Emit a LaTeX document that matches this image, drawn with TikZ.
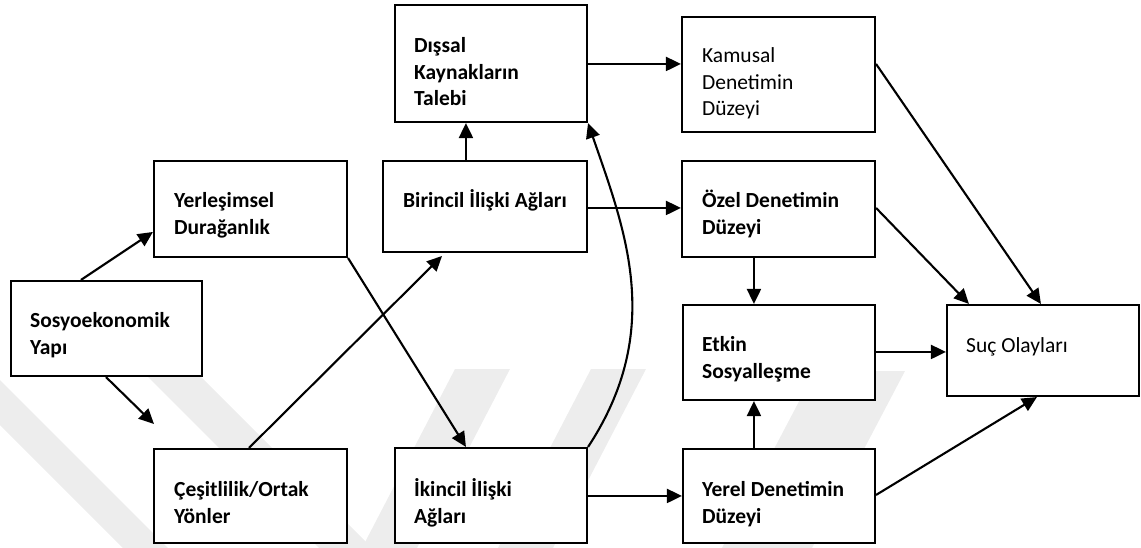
\documentclass[tikz,border=0pt]{standalone}
\usepackage{fontspec}
\setmainfont{Carlito}
\usetikzlibrary{arrows.meta,calc}
\begin{document}
\begin{tikzpicture}[x=1pt,y=-1pt,
  box/.style={draw, line width=2.1pt, fill=white, inner sep=0pt, rectangle},
  lbl/.style={anchor=base west, inner sep=0pt, align=left, font=\fontsize{21.5}{26.5}\selectfont\bfseries},
  lblr/.style={anchor=base west, inner sep=0pt, align=left, font=\fontsize{21.5}{26.5}\selectfont},
  arr/.style={line width=2.1pt, -{Triangle[length=15pt,width=14pt]}},
  wm/.style={fill=black!7, draw=none}]
\useasboundingbox (0,0) rectangle (1141,548);
% watermark
\fill[wm] (0,380) -- (0,425) -- (123,548) -- (168,548) -- cycle;
\fill[wm] (147,376) -- (200,376) -- (372,548) -- (319,548) -- cycle;
\fill[wm] (455,369) -- (510,369) -- (417,548) -- (362,548) -- cycle;
\fill[wm] (591,369) -- (646,369) -- (553,548) -- (498,548) -- cycle;
\fill[wm] (815,371) -- (905,371) -- (812,548) -- (722,548) -- cycle;
% boxes
\node[box, minimum width=191pt, minimum height=95pt] (sosyo) at (106.5,328.5) {};
\node[box, minimum width=193pt, minimum height=96pt] (yer) at (250.5,209) {};
\node[box, minimum width=193pt, minimum height=94pt] (cesit) at (250.5,496) {};
\node[box, minimum width=192pt, minimum height=117pt] (dis) at (491,63.5) {};
\node[box, minimum width=204pt, minimum height=91pt] (bir) at (485,206.5) {};
\node[box, minimum width=192pt, minimum height=95pt] (ikin) at (491,495.5) {};
\node[box, minimum width=193pt, minimum height=115pt] (kam) at (778.5,74.5) {};
\node[box, minimum width=193pt, minimum height=96pt] (ozel) at (778.5,209) {};
\node[box, minimum width=192pt, minimum height=95pt] (etkin) at (779,352.5) {};
\node[box, minimum width=192pt, minimum height=94pt] (yerel) at (779,496) {};
\node[box, minimum width=192pt, minimum height=91pt] (suc) at (1043,350.5) {};
% labels (anchor at baseline of the last line)
\node[lbl] (t-sosyo) at ($(sosyo.north west)+(20,74.5)$) {Sosyoekonomik\\Yapı};
\node[lbl] (t-yer) at ($(yer.north west)+(21,74.5)$) {Yerleşimsel\\Durağanlık};
\node[lbl] (t-cesit) at ($(cesit.north west)+(21,75.5)$) {Çeşitlilik/Ortak\\Yönler};
\node[lbl] (t-dis) at ($(dis.north west)+(20,102)$) {Dışsal\\Kaynakların\\Talebi};
\node[lbl] (t-bir) at ($(bir.north west)+(21,48)$) {Birincil İlişki Ağları};
\node[lbl] (t-ikin) at ($(ikin.north west)+(20,76.5)$) {İkincil İlişki\\Ağları};
\node[lblr] (t-kam) at ($(kam.north west)+(21,100)$) {Kamusal\\Denetimin\\Düzeyi};
\node[lbl] (t-ozel) at ($(ozel.north west)+(21,74.5)$) {Özel Denetimin\\Düzeyi};
\node[lbl] (t-etkin) at ($(etkin.north west)+(20,74.5)$) {Etkin\\Sosyalleşme};
\node[lbl] (t-yerel) at ($(yerel.north west)+(20,75.5)$) {Yerel Denetimin\\Düzeyi};
\node[lblr] (t-suc) at ($(suc.north west)+(20,49)$) {Suç Olayları};
% free ends
\coordinate (c2) at (154,424);
\coordinate (c4) at (442,256);
% connectors
\draw[arr] ($(sosyo.north west)+(71,0)$) -- ($(yer.north west)+(0,72)$);
\draw[arr] ($(sosyo.south west)+(96,0)$) -- (c2);
\draw[arr] (yer.south east) -- ($(ikin.north west)+(72,0)$);
\draw[arr] ($(cesit.north west)+(96,0)$) -- (c4);
\draw[arr] ($(bir.north west)+(84,0)$) -- ($(dis.south west)+(72,0)$);
\draw[arr] (ikin.north east) .. controls (665,330) and (625,230) .. (dis.south east);
\draw[arr] ($(dis.north east)+(0,60)$) -- ($(kam.north west)+(0,48)$);
\draw[arr] ($(bir.north east)+(0,48)$) -- ($(ozel.north west)+(0,48)$);
\draw[arr] ($(ikin.north east)+(0,49)$) -- ($(yerel.north west)+(0,48)$);
\draw[arr] ($(ozel.south west)+(73,0)$) -- ($(etkin.north west)+(72,0)$);
\draw[arr] ($(yerel.north west)+(72,0)$) -- ($(etkin.south west)+(72,0)$);
\draw[arr] ($(kam.north east)+(0,48)$) -- ($(suc.north west)+(95,0)$);
\draw[arr] ($(ozel.north east)+(0,48)$) -- ($(suc.north west)+(23,0)$);
\draw[arr] ($(etkin.north east)+(0,48)$) -- ($(suc.north west)+(0,48)$);
\draw[arr] ($(yerel.north east)+(0,47)$) -- ($(suc.south west)+(91,0)$);
\end{tikzpicture}
\end{document}
